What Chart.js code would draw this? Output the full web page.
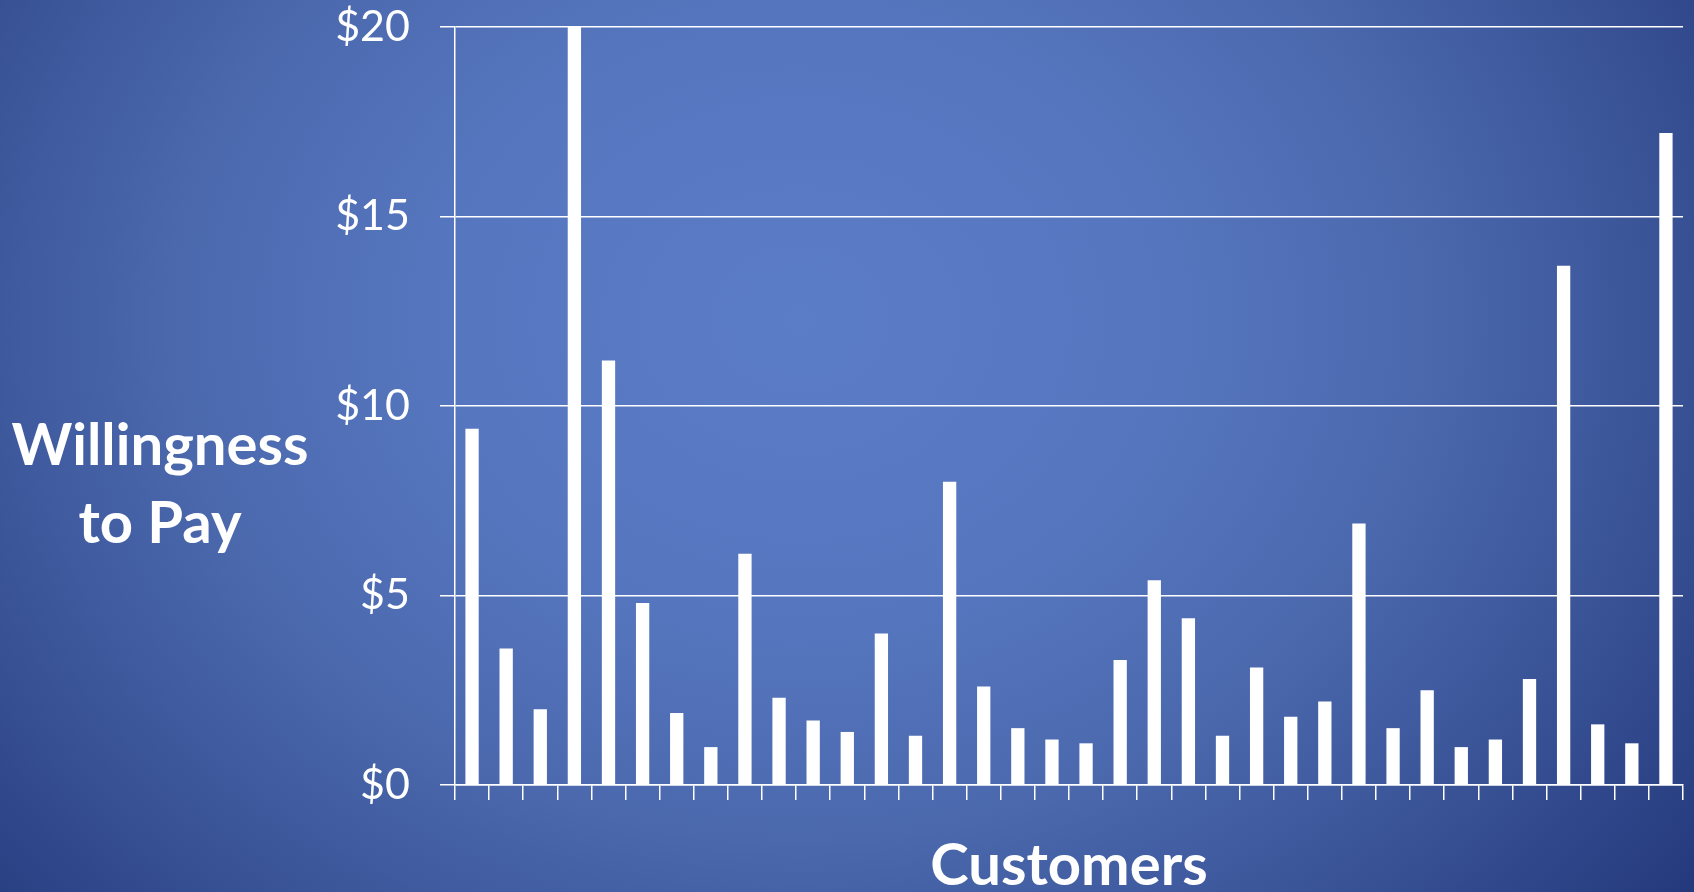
<!DOCTYPE html>
<html>
<head>
<meta charset="utf-8">
<title>Willingness to Pay</title>
<script src="https://cdn.jsdelivr.net/npm/chart.js@4.4.1/dist/chart.umd.min.js"></script>
<style>
  html, body {
    margin: 0;
    padding: 0;
    overflow: hidden;
  }
  body {
    width: 1694px;
    height: 892px;
    background: radial-gradient(ellipse 1150px 950px at 800px 320px,
      #5b7cc6 0%, #5677c0 30%, #4b68ad 55%, #354e91 80%, #22377a 100%);
  }
  #wrap {
    position: relative;
    width: 1694px;
    height: 892px;
  }
</style>
</head>
<body>
<div id="wrap">
  <canvas id="myChart" width="1694" height="892"></canvas>
</div>
<script>
   // customers along the x axis, one bar each
   const customers = ['1', '2', '3', '4', '5', '6', '7', '8', '9', '10', '11', '12',
       '13', '14', '15', '16', '17', '18', '19', '20', '21', '22', '23', '24',
       '25', '26', '27', '28', '29', '30', '31', '32', '33', '34', '35', '36'];

   // willingness to pay, in dollars
   const willingness = [9.4, 3.6, 2.0, 20, 11.2, 4.8, 1.9, 1.0, 6.1, 2.3, 1.7, 1.4,
       4.0, 1.3, 8.0, 2.6, 1.5, 1.2, 1.1, 3.3, 5.4, 4.4, 1.3, 3.1,
       1.8, 2.2, 6.9, 1.5, 2.5, 1.0, 1.2, 2.8, 13.7, 1.6, 1.1, 17.2];

   // y axis ticks
   const priceTicks = [0, 5, 10, 15, 20];

   const yTitle = ['Willingness', 'to Pay'];
   const xTitle = 'Customers';

   //    titles are drawn by hand so they sit where the slide had them
   const titlePlugin = {
       id: 'slideTitles',
       afterDraw(chart) {
           const ctx = chart.ctx;
           const area = chart.chartArea;
           ctx.save();
           ctx.fillStyle = '#ffffff';
           ctx.font = 'bold 58px Lato';
           ctx.textAlign = 'center';
           ctx.textBaseline = 'alphabetic';
           ctx.fillText(yTitle[0], area.left - 295, area.bottom - 320);
           ctx.fillText(yTitle[1], area.left - 295, area.bottom - 242);
           ctx.fillText(xTitle, (area.left + area.right) / 2, area.bottom + 100);
           ctx.restore();
       }
   };

   const chartData = {
       labels: customers,
       datasets: [{
           data: willingness,
           backgroundColor: '#ffffff',
           borderWidth: 0,
           barPercentage: 0.39,
           categoryPercentage: 1.0
       }]
   };

   const config = {
       type: 'bar',
       data: chartData,
       plugins: [titlePlugin],
       options: {
           responsive: false,
           animation: false,
           layout: {
               padding: { left: 0, top: 27, right: 11, bottom: 0 }
           },
           plugins: {
               legend: { display: false },
               tooltip: { enabled: false }
           },
           scales: {
               x: {
                   afterFit: scale => {
                       scale.height = 107;
                       scale.paddingLeft = 0;
                       scale.paddingRight = 0;
                   },
                   grid: {
                       drawOnChartArea: false,
                       drawTicks: true,
                       tickLength: 15,
                       color: '#ffffff',
                       lineWidth: 1.5
                   },
                   border: { display: true, color: '#ffffff', width: 1.5 },
                   ticks: { display: false }
               },
               y: {
                   min: 0,
                   max: 20,
                   afterFit: scale => {
                       scale.width = 455;
                       // let the $20 label hang over the top edge
                       scale.paddingTop = 0;
                       scale.paddingBottom = 0;
                   },
                   afterBuildTicks: scale => {
                       scale.ticks = priceTicks.map(v => ({ value: v }));
                   },
                   grid: {
                       color: '#ffffff',
                       lineWidth: 1.5,
                       drawTicks: true,
                       tickLength: 15
                   },
                   border: { display: true, color: '#ffffff', width: 1.5 },
                   ticks: {
                       color: '#ffffff',
                       padding: 30,
                       font: { family: 'Lato', size: 43 },
                       callback: value => '$' + value
                   }
               }
           }
       }
   };

   new Chart(document.getElementById('myChart'), config);
</script>
</body>
</html>
